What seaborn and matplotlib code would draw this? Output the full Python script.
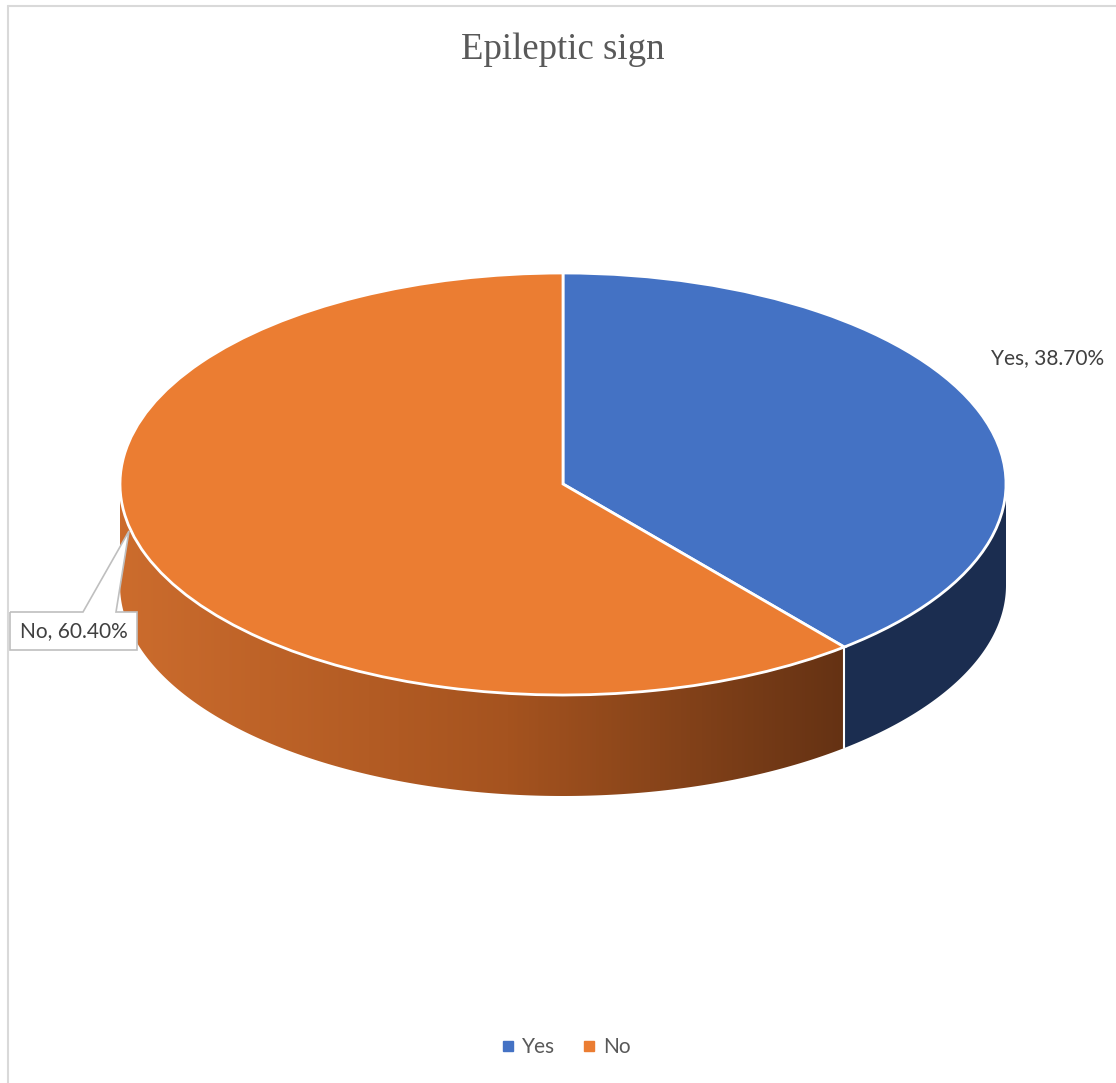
import numpy as np
import matplotlib
matplotlib.use("Agg")
import matplotlib.pyplot as plt
from matplotlib.patches import Polygon, PathPatch
from matplotlib.path import Path
from matplotlib.lines import Line2D
from matplotlib.colors import LinearSegmentedColormap
import seaborn as sns

# Data
categories = ["Yes", "No"]
percentages = [38.70, 60.40]
label_texts = ["Yes, 38.70%", "No, 60.40%"]
title_text = "Epileptic sign"

sns.set_theme(style="white")
plt.rcParams["font.family"] = ["Lato", "DejaVu Sans"]

top_colors = sns.color_palette(["#4472C4", "#EB7D32"])
side_yes = "#1B2D50"
side_no_cmap = LinearSegmentedColormap.from_list("side_no", ["#CC6C2D", "#A5531F", "#5B2D12"])

W, H = 1116, 1083
fig = plt.figure(figsize=(W / 100, H / 100), dpi=100)
fig.patch.set_facecolor("white")

# Outer chart frame (left and top edges)
fig.add_artist(Line2D([8 / W, 8 / W], [0, 1 - 6 / H], transform=fig.transFigure,
                      color="#D9D9D9", lw=1.5))
fig.add_artist(Line2D([8 / W, 1], [1 - 6 / H, 1 - 6 / H], transform=fig.transFigure,
                      color="#D9D9D9", lw=1.5))

# Pie axes: unit circle stretched into the tilted ellipse, wall below it
depth = 101 / 211
left, right, top, bottom = 120, 1006, 273, 796
pax = fig.add_axes([left / W, 1 - bottom / H, (right - left) / W, (bottom - top) / H])

wedges, _ = pax.pie(percentages, colors=top_colors, startangle=90, counterclock=False,
                    wedgeprops=dict(edgecolor="white", linewidth=2))
for w in wedges:
    w.set_zorder(5)
pax.set_aspect("auto")
pax.set_xlim(-1, 1)
pax.set_ylim(-1 - depth, 1)
pax.axis("off")

# Side walls of the visible front half
fracs = np.array(percentages) / np.sum(percentages)
starts = 90 - 360 * np.concatenate([[0], np.cumsum(fracs)[:-1]])
ends = starts - 360 * fracs


def wall(t0, t1):
    t = np.radians(np.linspace(t0, t1, 200))
    x, y = np.cos(t), np.sin(t)
    pts = np.vstack([np.column_stack([x, y]), np.column_stack([x[::-1], y[::-1] - depth])])
    return pts


for i, (s, e) in enumerate(zip(starts, ends)):
    lo, hi = max(e, -180), min(s, 0)
    if hi <= lo:
        continue
    pts = wall(lo, hi)
    if i == 0:
        poly = Polygon(pts, closed=True, facecolor=side_yes, edgecolor="none", zorder=2)
        pax.add_patch(poly)
    else:
        poly = Polygon(pts, closed=True, facecolor="none", edgecolor="none", zorder=2)
        pax.add_patch(poly)
        grad = np.linspace(0, 1, 512).reshape(1, -1)
        img = pax.imshow(grad, cmap=side_no_cmap, aspect="auto",
                         extent=(-1, 0.75, -1 - depth, 1), zorder=2, vmin=0, vmax=1)
        img.set_clip_path(poly)
        pax.add_patch(Polygon([[0.75, -1 - depth], [1, -1 - depth], [1, 1], [0.75, 1]],
                              closed=True, facecolor="#5B2D12", edgecolor="none",
                              zorder=2, clip_path=poly))

# Seam between the two walls
seam = np.radians(ends[0])
pax.plot([np.cos(seam), np.cos(seam)], [np.sin(seam), np.sin(seam) - depth],
         color="white", lw=1.5, zorder=4)

# Title
fig.text(563 / W, 1 - 50 / H, title_text, ha="center", va="center",
         fontsize=26.5, color="#595959", family=["Liberation Serif", "DejaVu Serif"])

# Data labels
fig.text(1048 / W, 1 - 358 / H, label_texts[0], ha="center", va="center",
         fontsize=15, color="#404040")

# Callout for the "No" label
bx0, bx1, by0, by1 = 10, 137, 612, 650
tip = (129, 531)
callout = [(bx0, by0), (83, by0), tip, (116, by0), (bx1, by0), (bx1, by1), (bx0, by1), (bx0, by0)]
callout_fig = [(x / W, 1 - y / H) for x, y in callout]
fig.add_artist(PathPatch(Path(callout_fig, closed=False), transform=fig.transFigure,
                         facecolor="white", edgecolor="#BFBFBF", lw=1.2, zorder=10))
fig.text(((bx0 + bx1) / 2) / W, 1 - ((by0 + by1) / 2) / H, label_texts[1],
         ha="center", va="center", fontsize=15, color="#404040", zorder=11)

# Legend
handles = [Line2D([0], [0], marker="s", linestyle="none", markersize=7,
                  markerfacecolor=c, markeredgecolor=c) for c in top_colors]
fig.legend(handles, categories, loc="center", bbox_to_anchor=(565 / W, 1 - 1047 / H),
           ncol=2, frameon=False, fontsize=15, labelcolor="#595959",
           handlelength=0.8, handletextpad=0.3, columnspacing=1.2)

fig.savefig("out.png", dpi=100, facecolor="white")
